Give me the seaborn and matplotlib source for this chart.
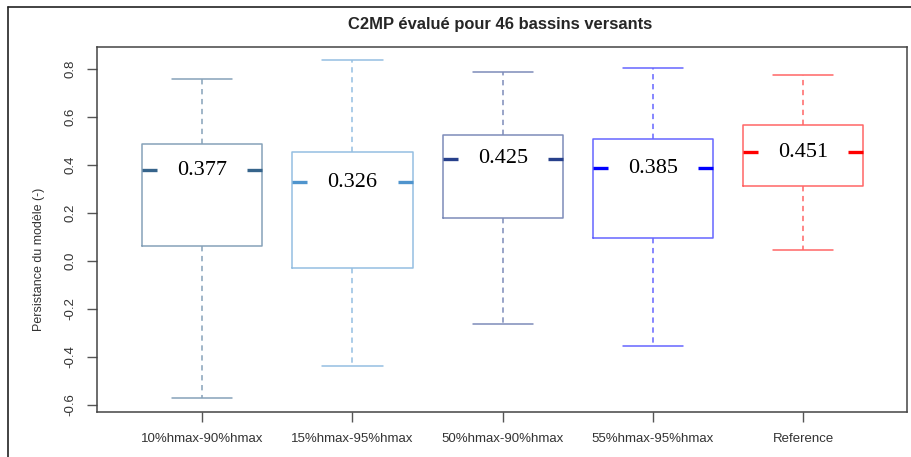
import pandas as pd
import matplotlib
matplotlib.use("Agg")
import matplotlib.pyplot as plt
import matplotlib.colors as mcolors
from matplotlib.lines import Line2D
import seaborn as sns

# Box summaries
groups = ["10%hmax-90%hmax", "15%hmax-95%hmax", "50%hmax-90%hmax",
          "55%hmax-95%hmax", "Reference"]
lower = [-0.571, -0.439, -0.264, -0.356, 0.044]
q1 = [0.062, -0.031, 0.178, 0.095, 0.311]
medians = [0.377, 0.326, 0.425, 0.385, 0.451]
q3 = [0.486, 0.451, 0.523, 0.505, 0.564]
upper = [0.755, 0.836, 0.786, 0.801, 0.773]
median_colors = ["#36648B", "#4F94CD", "#27408B", "#0000FF", "#FF0000"]
yticks = [-0.6, -0.4, -0.2, 0.0, 0.2, 0.4, 0.6, 0.8]


def lighten(c, a=0.6):
    r, g, b = mcolors.to_rgb(c)
    return (a * r + 1 - a, a * g + 1 - a, a * b + 1 - a)


edge_colors = [lighten(c) for c in median_colors]

# five points per group -> quartiles come out exactly
rows = []
for g, lo, a, m, b, hi in zip(groups, lower, q1, medians, q3, upper):
    for v in (lo, a, m, b, hi):
        rows.append({"group": g, "value": v})
df = pd.DataFrame(rows)

sns.set_style("white")
plt.rcParams["font.family"] = ["Liberation Sans", "DejaVu Sans"]

fig = plt.figure(figsize=(9.12, 4.57), dpi=100)
ax = fig.add_axes([97 / 912, 1 - 411.7 / 457, 810 / 912, 365 / 457])

sns.boxplot(data=df, x="group", y="value", hue="group", palette=edge_colors,
            fill=False, width=0.8, whis=(0, 100), linewidth=1.1,
            whiskerprops=dict(linestyle=(0, (3.5, 3))), medianprops=dict(visible=False),
            legend=False, ax=ax)

# median stubs + value text
for i, (m, c) in enumerate(zip(medians, median_colors)):
    ax.hlines([m, m], [i - 0.4, i + 0.3], [i - 0.3, i + 0.4], colors=c, lw=2.4, zorder=4)
    ax.text(i, m, f"{m:.3f}", ha="center", va="center", fontsize=16,
            family="Liberation Serif", color="black", zorder=5)

ax.set_xlim(-0.7, 4.69)
ax.set_ylim(-0.63, 0.891)
ax.set_yticks(yticks)
ax.set_yticklabels([f"{t:.1f}".replace("-0.0", "0.0") for t in yticks],
                   rotation=90, va="center")
ax.set_xlabel("")
ax.set_ylabel("Persistance du modèle (-)", fontsize=9, color="#333333")
ax.yaxis.set_label_coords(-0.064, 0.418)
ax.tick_params(axis="both", direction="out", length=7, width=1, color="#555555",
               labelsize=9.5, labelcolor="#333333", pad=8)
ax.tick_params(axis="y", left=True)
ax.tick_params(axis="x", bottom=True)
for s in ax.spines.values():
    s.set_visible(True)
    s.set_color("#444444")
    s.set_linewidth(1.1)

fig.text(500 / 912, 1 - 24 / 457, "C2MP évalué pour 46 bassins versants",
         ha="center", va="center", fontsize=11.9, fontweight="bold")

# outer frame (left and top)
fig.add_artist(Line2D([8.5 / 912, 8.5 / 912], [0, 1 - 6.5 / 457], color="#222222", lw=1.2))
fig.add_artist(Line2D([8.5 / 912, 1], [1 - 6.5 / 457, 1 - 6.5 / 457], color="#222222", lw=1.2))

fig.savefig("out.png", dpi=100)
